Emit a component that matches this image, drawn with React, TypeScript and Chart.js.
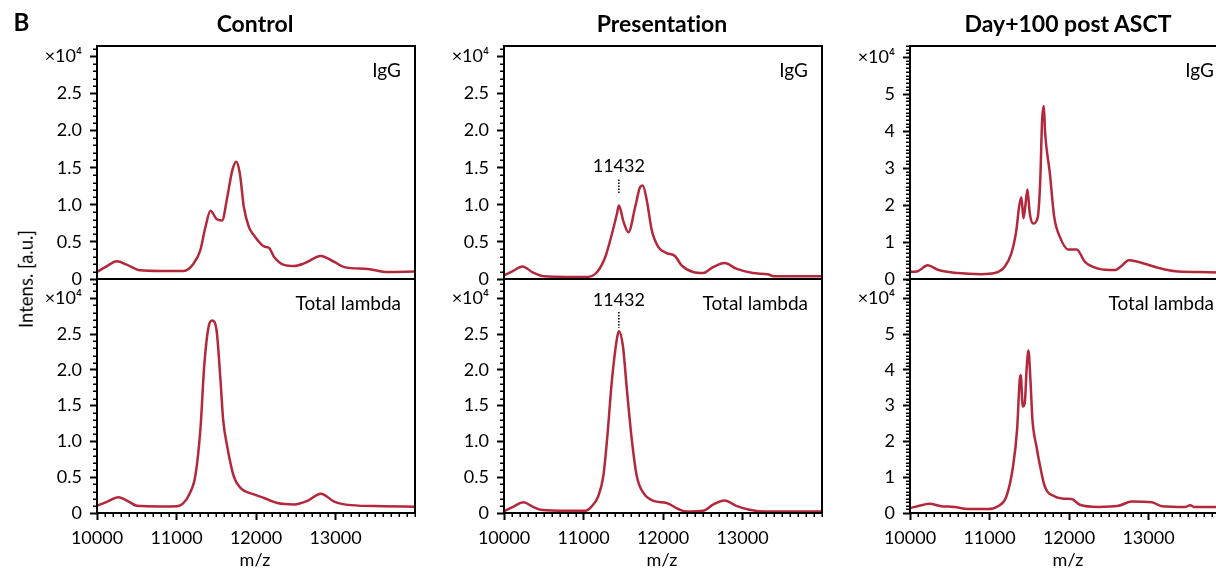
import React, { useEffect, useRef } from "react";
import { Chart, registerables } from "chart.js";

Chart.register(...registerables);

const FONT = 'Lato, "Noto Sans", "DejaVu Sans", sans-serif';

// ---------- DATA ----------
const columnTitles = ["Control", "Presentation", "Day+100 post ASCT"];
const rowLabels = ["IgG", "Total lambda"];

const ctrlIgGMz = [10000, 10120, 10250, 10380, 10540, 10800, 11090, 11216, 11300, 11364, 11427, 11503, 11574, 11638, 11701, 11751, 11797, 11847, 11911, 11974, 12100, 12163, 12226, 12352, 12479, 12605, 12816, 12984, 13110, 13405, 13658, 14000];
const ctrlIgGInt = [950, 1700, 2400, 1900, 1170, 1080, 1080, 2100, 3900, 7000, 9200, 8100, 7900, 11000, 14600, 15800, 14200, 9700, 7000, 5900, 4400, 4200, 3000, 1900, 1750, 2100, 3100, 2300, 1600, 1350, 940, 1000];

const ctrlLamMz = [10000, 10130, 10269, 10400, 10501, 10800, 11006, 11080, 11160, 11237, 11300, 11351, 11405, 11448, 11503, 11553, 11587, 11638, 11721, 11805, 11974, 12100, 12269, 12479, 12648, 12816, 12984, 13194, 13600, 14000];
const ctrlLamInt = [1000, 1600, 2200, 1600, 1000, 920, 950, 1300, 2600, 5200, 11600, 20900, 26100, 26900, 25600, 18600, 13000, 9300, 5100, 3500, 2600, 2100, 1400, 1200, 1700, 2700, 1600, 1100, 950, 880];

const presIgGMz = [10000, 10100, 10233, 10360, 10504, 10800, 11046, 11171, 11275, 11358, 11421, 11445, 11504, 11566, 11650, 11713, 11746, 11796, 11858, 11942, 12046, 12150, 12233, 12379, 12504, 12629, 12775, 12921, 13129, 13316, 13400, 14000];
const presIgGInt = [500, 1000, 1700, 900, 360, 270, 270, 940, 3000, 6100, 8800, 9900, 7700, 6300, 9700, 12400, 12600, 10600, 6600, 4300, 3500, 3100, 1850, 940, 800, 1600, 2150, 1400, 800, 630, 360, 360];

const presLamMz = [10000, 10120, 10246, 10360, 10463, 10800, 11025, 11100, 11180, 11250, 11296, 11358, 11421, 11445, 11496, 11546, 11608, 11671, 11754, 11879, 12046, 12192, 12296, 12504, 12629, 12775, 12921, 13088, 13296, 14000];
const presLamInt = [250, 900, 1500, 900, 460, 300, 320, 900, 2200, 5200, 10200, 18600, 24400, 25400, 23300, 17200, 10200, 5100, 2800, 1700, 1400, 560, 200, 300, 1160, 1760, 1000, 460, 200, 200];

const dayIgGMz = [10000, 10097, 10223, 10350, 10602, 10896, 11064, 11191, 11275, 11338, 11372, 11401, 11427, 11452, 11477, 11507, 11549, 11604, 11637, 11662, 11683, 11700, 11759, 11814, 11885, 11991, 12096, 12201, 12370, 12580, 12664, 12749, 12875, 13128, 13337, 13632, 14000];
const dayIgGInt = [1900, 2100, 3700, 2500, 1600, 1300, 1600, 3300, 6900, 13200, 19500, 22100, 16400, 20000, 24200, 17700, 15000, 16400, 25900, 43000, 46800, 39400, 28600, 16800, 11400, 8000, 8000, 4600, 2800, 2400, 3600, 5100, 4600, 3000, 2100, 1900, 1700];

const dayLamMz = [10000, 10097, 10244, 10391, 10560, 10729, 10981, 11107, 11212, 11296, 11347, 11380, 11393, 11418, 11443, 11469, 11490, 11515, 11540, 11591, 11633, 11696, 11822, 11949, 12033, 12138, 12370, 12622, 12790, 13043, 13169, 13463, 13526, 13569, 14000];
const dayLamInt = [1400, 1900, 2600, 1900, 1700, 1100, 1100, 1900, 4600, 13000, 23300, 37200, 38600, 29800, 30700, 41000, 45400, 37200, 26100, 18600, 13500, 7400, 4600, 4000, 3900, 2300, 1700, 2000, 3200, 3000, 1900, 1700, 2200, 1700, 1700];

const xMin = 10000;
const xMax = 14000;
const xTicks = [10000, 11000, 12000, 13000];
const xTickLabels = ["10000", "11000", "12000", "13000"];
const xMinorStep = 100;

const yTicksFine = [0, 5000, 10000, 15000, 20000, 25000, 30000];
const yLabelsFine = ["0", "0.5", "1.0", "1.5", "2.0", "2.5", "\u00d710\u2074"];
const yTicksCoarse = [0, 10000, 20000, 30000, 40000, 50000, 60000];
const yLabelsCoarse = ["0", "1", "2", "3", "4", "5", "\u00d710\u2074"];
const yMinorStep = 1000;

const yMaxTop = [31400, 31400, 63000];
const yMaxBottom = [32700, 32700, 65400];

// annotation: m/z label with dotted marker (values in data units)
const annotMz = 11432;
const annotLabel = "11432";
const annotPresIgG = [15200, 13400, 11600]; // label y, marker top, marker bottom
const annotPresLam = [29800, 28100, 25900];

// ---------- LAYOUT (styles) ----------
const PLOT_LEFT = [97, 504, 910];
const PLOT_W = 318;
const ROW_TOP = [46, 279];
const ROW_H = [233, 234];
const AXIS_W = 70;
const PAD = 24;
const RIGHT_PAD = 10;
const X_AXIS_H = 59;
const LINE_COLOR = "#B3283A";
const TICK_FONT = 18;

type Panel = {
  col: number;
  row: number;
  mz: number[];
  inten: number[];
  yMax: number;
  yTicks: number[];
  yLabels: string[];
  label: string;
  annot?: number[];
};

const panels: Panel[] = [
  { col: 0, row: 0, mz: ctrlIgGMz, inten: ctrlIgGInt, yMax: yMaxTop[0], yTicks: yTicksFine, yLabels: yLabelsFine, label: rowLabels[0] },
  { col: 0, row: 1, mz: ctrlLamMz, inten: ctrlLamInt, yMax: yMaxBottom[0], yTicks: yTicksFine, yLabels: yLabelsFine, label: rowLabels[1] },
  { col: 1, row: 0, mz: presIgGMz, inten: presIgGInt, yMax: yMaxTop[1], yTicks: yTicksFine, yLabels: yLabelsFine, label: rowLabels[0], annot: annotPresIgG },
  { col: 1, row: 1, mz: presLamMz, inten: presLamInt, yMax: yMaxBottom[1], yTicks: yTicksFine, yLabels: yLabelsFine, label: rowLabels[1], annot: annotPresLam },
  { col: 2, row: 0, mz: dayIgGMz, inten: dayIgGInt, yMax: yMaxTop[2], yTicks: yTicksCoarse, yLabels: yLabelsCoarse, label: rowLabels[0] },
  { col: 2, row: 1, mz: dayLamMz, inten: dayLamInt, yMax: yMaxBottom[2], yTicks: yTicksCoarse, yLabels: yLabelsCoarse, label: rowLabels[1] },
];

function canvasBox(p: Panel) {
  const left = PLOT_LEFT[p.col] - AXIS_W;
  const top = ROW_TOP[p.row] - PAD;
  const width = AXIS_W + PLOT_W + RIGHT_PAD;
  const height = PAD + ROW_H[p.row] + (p.row === 0 ? PAD : X_AXIS_H);
  return { left, top, width, height };
}

function makeChart(canvas: HTMLCanvasElement, p: Panel) {
  const isBottom = p.row === 1;
  const decor = {
    id: "decor" + p.col + p.row,
    afterDraw(chart: any) {
      const ctx = chart.ctx;
      const a = chart.chartArea;
      const xs = chart.scales.x;
      const ys = chart.scales.y;
      ctx.save();
      ctx.strokeStyle = "#000";
      // minor y ticks
      ctx.lineWidth = 1.5;
      ctx.beginPath();
      for (let v = 0; v <= p.yMax; v += yMinorStep) {
        if (p.yTicks.includes(v)) continue;
        const py = Math.round(ys.getPixelForValue(v)) + 0.25;
        ctx.moveTo(a.left - 4, py);
        ctx.lineTo(a.left, py);
      }
      ctx.stroke();
      // minor x ticks
      if (isBottom) {
        ctx.beginPath();
        for (let v = xMin; v <= xMax; v += xMinorStep) {
          if (xTicks.includes(v)) continue;
          const px = Math.round(xs.getPixelForValue(v)) + 0.25;
          ctx.moveTo(px, a.bottom);
          ctx.lineTo(px, a.bottom + 4);
        }
        ctx.stroke();
      }
      // frame
      ctx.lineWidth = 2;
      ctx.strokeRect(a.left, a.top, a.right - a.left, a.bottom - a.top);
      // row label
      ctx.fillStyle = "#000";
      ctx.font = "19px " + FONT;
      ctx.textAlign = "right";
      ctx.textBaseline = "middle";
      ctx.fillText(p.label, a.right - 14, a.top + 25);
      // annotation
      if (p.annot) {
        const ax = xs.getPixelForValue(annotMz);
        ctx.font = "18px " + FONT;
        ctx.textAlign = "center";
        ctx.fillText(annotLabel, ax + 1, ys.getPixelForValue(p.annot[0]));
        ctx.setLineDash([1.5, 1.5]);
        ctx.lineWidth = 1.5;
        ctx.beginPath();
        ctx.moveTo(ax + 1, ys.getPixelForValue(p.annot[1]));
        ctx.lineTo(ax + 1, ys.getPixelForValue(p.annot[2]));
        ctx.stroke();
      }
      ctx.restore();
    },
  };

  return new Chart(canvas, {
    type: "line",
    data: {
      datasets: [
        {
          data: p.mz.map((m, i) => ({ x: m, y: p.inten[i] })),
          borderColor: LINE_COLOR,
          borderWidth: 2.5,
          pointRadius: 0,
          fill: false,
          cubicInterpolationMode: "monotone",
        },
      ],
    },
    options: {
      animation: false,
      responsive: false,
      maintainAspectRatio: false,
      devicePixelRatio: 1,
      layout: { padding: { top: PAD, bottom: isBottom ? 0 : PAD, left: 0, right: RIGHT_PAD } },
      plugins: { legend: { display: false }, tooltip: { enabled: false }, title: { display: false } },
      scales: {
        x: {
          type: "linear",
          min: xMin,
          max: xMax,
          display: isBottom,
          afterBuildTicks: (s: any) => {
            s.ticks = xTicks.map((v) => ({ value: v }));
          },
          afterFit: (s: any) => {
            if (isBottom) s.height = X_AXIS_H;
          },
          ticks: {
            autoSkip: false,
            maxRotation: 0,
            padding: 7,
            color: "#000",
            font: { size: TICK_FONT, family: FONT },
            callback: (_v: any, i: number) => xTickLabels[i],
          },
          grid: { drawOnChartArea: false, drawTicks: true, tickLength: 7, tickWidth: 2, tickColor: "#000" },
          border: { display: false },
        },
        y: {
          type: "linear",
          min: 0,
          max: p.yMax,
          afterBuildTicks: (s: any) => {
            s.ticks = p.yTicks.map((v) => ({ value: v }));
          },
          afterFit: (s: any) => {
            s.width = AXIS_W;
          },
          ticks: {
            autoSkip: false,
            padding: 8,
            color: "#000",
            font: { size: TICK_FONT, family: FONT },
            callback: (_v: any, i: number) => p.yLabels[i],
          },
          grid: { drawOnChartArea: false, drawTicks: true, tickLength: 7, tickWidth: 2, tickColor: "#000" },
          border: { display: false },
        },
      },
    } as any,
    plugins: [decor],
  });
}

export default function App() {
  const refs = useRef<(HTMLCanvasElement | null)[]>([]);

  useEffect(() => {
    const charts = panels.map((p, i) => makeChart(refs.current[i] as HTMLCanvasElement, p));
    return () => charts.forEach((c) => c.destroy());
  }, []);

  const textBase: React.CSSProperties = {
    position: "absolute",
    transform: "translate(-50%, -50%)",
    whiteSpace: "nowrap",
    lineHeight: 1,
    color: "#000",
    fontFamily: FONT,
    fontVariantLigatures: "none",
    fontFeatureSettings: '"liga" 0, "dlig" 0, "calt" 0',
  };

  return (
    <div
      style={{
        position: "fixed",
        left: 0,
        top: 0,
        width: 1216,
        height: 572,
        overflow: "hidden",
        background: "#fff",
        fontFamily: FONT,
      }}
    >
      {panels.map((p, i) => {
        const b = canvasBox(p);
        return (
          <canvas
            key={i}
            ref={(el) => {
              refs.current[i] = el;
            }}
            width={b.width}
            height={b.height}
            style={{ position: "absolute", left: b.left, top: b.top, width: b.width, height: b.height, display: "block" }}
          />
        );
      })}
      <div style={{ ...textBase, left: 21.5, top: 21.5, fontSize: 24, fontWeight: 700 }}>B</div>
      {columnTitles.map((t, c) => (
        <div key={t} style={{ ...textBase, left: PLOT_LEFT[c] + PLOT_W / 2 - 1, top: 22.5, fontSize: 23, fontWeight: 700 }}>
          {t}
        </div>
      ))}
      {columnTitles.map((t, c) => (
        <div key={"mz" + t} style={{ ...textBase, left: PLOT_LEFT[c] + PLOT_W / 2 - 1, top: 559, fontSize: 18 }}>
          m/z
        </div>
      ))}
      <div style={{ ...textBase, left: 26, top: 279, fontSize: 18.5, transform: "translate(-50%, -50%) rotate(-90deg)" }}>
        Intens. [a.u.]
      </div>
    </div>
  );
}
